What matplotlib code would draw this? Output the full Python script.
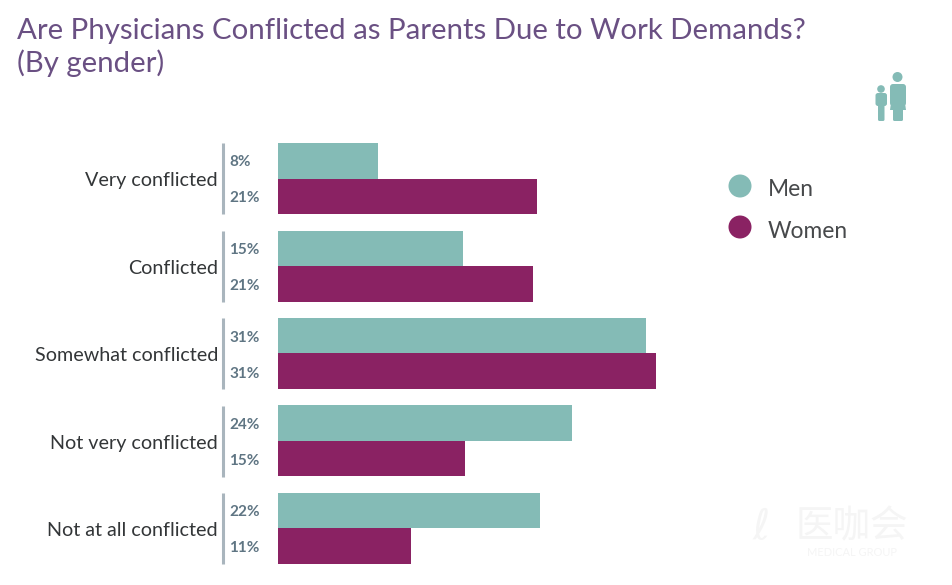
import numpy as np
import matplotlib
matplotlib.use('Agg')
import matplotlib.pyplot as plt
from matplotlib.patches import Circle, FancyBboxPatch, Polygon

# ── Data ──────────────────────────────────────────────
categories = ['Very conflicted', 'Conflicted', 'Somewhat conflicted',
              'Not very conflicted', 'Not at all conflicted']
men = [8.2, 15.2, 30.2, 24.1, 21.5]
women = [21.2, 20.9, 31.0, 15.3, 10.9]
men_labels = ['8%', '15%', '31%', '24%', '22%']
women_labels = ['21%', '21%', '31%', '15%', '11%']

TITLE = 'Are Physicians Conflicted as Parents Due to Work Demands?\n(By gender)'
TEAL = '#84BBB6'
PLUM = '#8A2263'
W, H = 952, 585

plt.rcParams['font.family'] = ['Lato', 'Noto Sans CJK SC', 'DejaVu Sans']

fig = plt.figure(figsize=(W / 100, H / 100), dpi=100, facecolor='white')

# bars: axes spans 278..766 px across, 143..564 px down
ax = fig.add_axes([278 / W, 1 - 564 / H, 488 / W, 421 / H])
y = np.arange(len(categories))
h = 35.5 / 87.5
ax.barh(y - h / 2, men, height=h, color=TEAL)
ax.barh(y + h / 2, women, height=h, color=PLUM)
ax.set_xlim(0, 40)
ax.set_ylim(4.406, -0.406)
ax.axis('off')

# overlay in pixel coords for labels and decoration
ov = fig.add_axes([0, 0, 1, 1], zorder=-1)
ov.set_xlim(0, W)
ov.set_ylim(H, 0)
ov.axis('off')

ov.text(17, 18, TITLE, fontsize=21.2, color='#6A5083', va='top', ha='left',
        linespacing=1.22)

for i, cat in enumerate(categories):
    yc = 178.5 + 87.5 * i
    ov.text(218, yc + 2, cat, fontsize=14.2, color='#333638', ha='right', va='center')
    ov.plot([222.5, 222.5], [yc - 35.5, yc + 35.5], color='#A9B5BD', lw=2.2,
            solid_capstyle='butt')
    ov.text(229, yc - 16, men_labels[i], fontsize=11, color='#5F7583',
            fontweight='bold', ha='left', va='center')
    ov.text(229, yc + 20, women_labels[i], fontsize=11, color='#5F7583',
            fontweight='bold', ha='left', va='center')

# legend
for yy, col, name in [(186, TEAL, 'Men'), (227, PLUM, 'Women')]:
    ov.add_patch(Circle((740, yy), 11.5, color=col, lw=0))
    ov.text(768, yy + 4, name, fontsize=16.4, color='#47494B', ha='left', va='center')

# parent and child icon
ov.add_patch(Circle((897.5, 77), 5, color=TEAL, lw=0))
ov.add_patch(FancyBboxPatch((890, 84), 16, 22, boxstyle='round,pad=0,rounding_size=3',
                            color=TEAL, lw=0))
ov.add_patch(Polygon([(891, 103), (905, 103), (906, 110), (890, 110)], color=TEAL, lw=0))
ov.add_patch(FancyBboxPatch((893, 108), 10, 13, boxstyle='round,pad=0,rounding_size=1.5',
                            color=TEAL, lw=0))
ov.add_patch(Circle((881, 89), 3.8, color=TEAL, lw=0))
ov.add_patch(FancyBboxPatch((875.5, 93), 11.5, 13, boxstyle='round,pad=0,rounding_size=2.5',
                            color=TEAL, lw=0))
ov.add_patch(FancyBboxPatch((878, 104), 6.5, 17, boxstyle='round,pad=0,rounding_size=1.5',
                            color=TEAL, lw=0))

# faint watermark
ov.text(852, 526, '医咖会', fontsize=27, color='#F5F5F5', ha='center', va='center',
        zorder=5)
ov.text(852, 552, 'MEDICAL GROUP', fontsize=8, color='#F5F5F5', ha='center',
        va='center', zorder=5)
ov.text(761, 527, 'ℓ', fontsize=30, color='#F5F5F5', ha='center', va='center',
        family='DejaVu Sans', zorder=5)

fig.savefig('out.png', dpi=100, facecolor='white')
